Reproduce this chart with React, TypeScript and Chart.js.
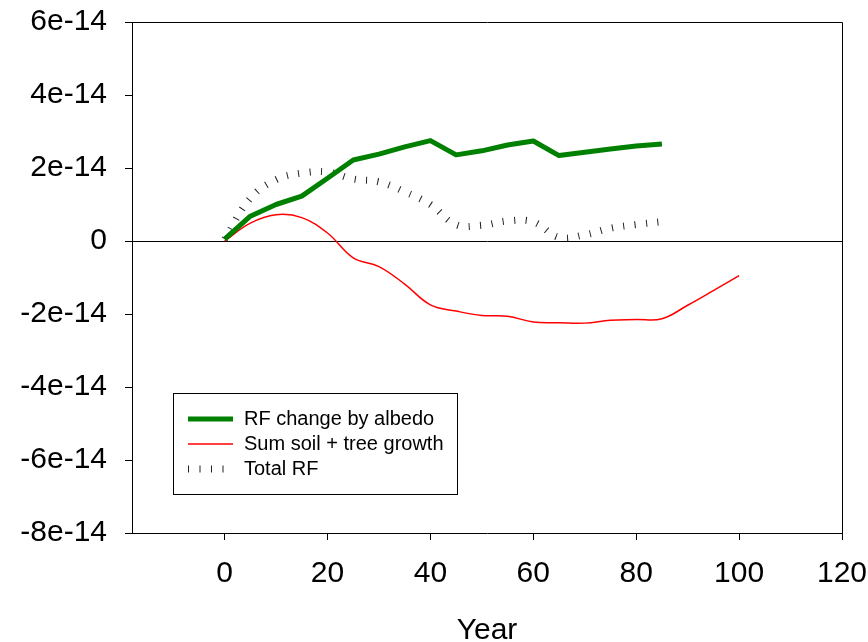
import { useEffect, useRef } from 'react';
import { Chart, registerables } from 'chart.js';

Chart.register(...registerables);

// ---- data ----
const albedoYears = [0, 5, 10, 15, 20, 25, 30, 35, 40, 45, 50, 55, 60, 65, 70, 75, 80, 85];
const albedoRF = [
  0.05e-14, 0.68e-14, 1.0e-14, 1.23e-14, 1.72e-14, 2.22e-14, 2.38e-14, 2.58e-14, 2.75e-14,
  2.36e-14, 2.47e-14, 2.63e-14, 2.74e-14, 2.34e-14, 2.43e-14, 2.52e-14, 2.6e-14, 2.66e-14,
];

const soilYears = [0, 5, 10, 15, 20, 25, 30, 35, 40, 45, 50, 55, 60, 65, 70, 75, 80, 85, 90, 95, 100];
const soilTreeRF = [
  0, 0.49e-14, 0.72e-14, 0.64e-14, 0.22e-14, -0.46e-14, -0.7e-14, -1.18e-14, -1.75e-14,
  -1.92e-14, -2.04e-14, -2.06e-14, -2.22e-14, -2.24e-14, -2.25e-14, -2.17e-14, -2.15e-14,
  -2.13e-14, -1.76e-14, -1.36e-14, -0.95e-14,
];

const totalYears = [0, 5, 10, 15, 20, 25, 30, 35, 40, 45, 50, 55, 60, 65, 70, 75, 80, 85];
const totalRF = [
  0.05e-14, 1.17e-14, 1.68e-14, 1.86e-14, 1.89e-14, 1.7e-14, 1.62e-14, 1.35e-14, 1.0e-14,
  0.45e-14, 0.43e-14, 0.55e-14, 0.52e-14, 0.1e-14, 0.17e-14, 0.35e-14, 0.45e-14, 0.53e-14,
];

const seriesLabels = ['RF change by albedo', 'Sum soil + tree growth', 'Total RF'];
const xTickValues = [0, 20, 40, 60, 80, 100, 120];
const yTickValues = [-8e-14, -6e-14, -4e-14, -2e-14, 0, 2e-14, 4e-14, 6e-14];
const yTickLabels = ['-8e-14', '-6e-14', '-4e-14', '-2e-14', '0', '2e-14', '4e-14', '6e-14'];
const xTitle = 'Year';

const FONT = "'Liberation Sans', Arial, Helvetica, sans-serif";

const toPoints = (xs: number[], ys: number[]) => xs.map((x, i) => ({ x, y: ys[i] }));

const frameAndLegend = {
  id: 'frameAndLegend',
  afterDraw(chart: any) {
    const { ctx, chartArea } = chart;
    ctx.save();
    // top and right frame lines
    ctx.strokeStyle = '#000';
    ctx.lineWidth = 1;
    ctx.beginPath();
    const l = Math.round(chartArea.left) + 0.5;
    const r = Math.round(chartArea.right) + 0.5;
    const t = Math.round(chartArea.top) + 0.5;
    const b = Math.round(chartArea.bottom) + 0.5;
    ctx.moveTo(l, t);
    ctx.lineTo(r, t);
    ctx.lineTo(r, b);
    ctx.stroke();

    // legend box
    const x0 = Math.round(chartArea.left) + 41;
    const y0 = Math.round(chartArea.top) + 371;
    const w = 284;
    const h = 101;
    ctx.strokeRect(x0 + 0.5, y0 + 0.5, w, h);
    chart.data.datasets.forEach((ds: any, i: number) => {
      const y = y0 + 26 + i * 25;
      ctx.beginPath();
      ctx.setLineDash(ds.borderDash || []);
      ctx.lineCap = 'butt';
      ctx.lineWidth = ds.borderWidth;
      ctx.strokeStyle = ds.borderColor;
      ctx.moveTo(x0 + 15, y);
      ctx.lineTo(x0 + 60, y);
      ctx.stroke();
      ctx.setLineDash([]);
      ctx.fillStyle = '#000';
      ctx.font = `20px ${FONT}`;
      ctx.textBaseline = 'middle';
      ctx.textAlign = 'left';
      ctx.fillText(ds.label, x0 + 71, y);
    });
    ctx.restore();
  },
};

export default function App() {
  const canvasRef = useRef<HTMLCanvasElement | null>(null);

  useEffect(() => {
    document.body.style.margin = '0';
    const canvas = canvasRef.current;
    if (!canvas) return;
    const chart = new Chart(canvas, {
      type: 'line',
      data: {
        datasets: [
          {
            label: seriesLabels[0],
            data: toPoints(albedoYears, albedoRF),
            borderColor: '#008000',
            borderWidth: 5,
            pointRadius: 0,
            tension: 0,
            borderJoinStyle: 'round',
          },
          {
            label: seriesLabels[1],
            data: toPoints(soilYears, soilTreeRF),
            borderColor: '#ff0000',
            borderWidth: 1.5,
            pointRadius: 0,
            tension: 0.4,
          },
          {
            label: seriesLabels[2],
            data: toPoints(totalYears, totalRF),
            borderColor: '#222222',
            borderWidth: 7,
            borderDash: [1, 10.5],
            borderCapStyle: 'butt',
            pointRadius: 0,
            tension: 0.4,
          },
        ],
      },
      options: {
        animation: false,
        responsive: true,
        maintainAspectRatio: false,
        layout: { padding: { top: 22, right: 26, left: 0, bottom: 0 } },
        plugins: {
          legend: { display: false },
          tooltip: { enabled: false },
        },
        scales: {
          x: {
            type: 'linear',
            min: -18,
            max: 120,
            afterFit: (scale: any) => {
              scale.height = 109;
              scale.paddingLeft = 0;
              scale.paddingRight = 0;
            },
            afterBuildTicks: (scale: any) => {
              scale.ticks = xTickValues.map((v) => ({ value: v }));
            },
            grid: {
              color: 'rgba(0,0,0,0)',
              tickColor: '#000',
              tickLength: 7,
              drawOnChartArea: false,
            },
            border: { display: true, color: '#000', width: 1 },
            ticks: {
              color: '#000',
              padding: 16,
              maxRotation: 0,
              font: { family: FONT, size: 30 },
              callback: (v: any) => String(v),
            },
            title: {
              display: true,
              text: xTitle,
              color: '#000',
              font: { family: FONT, size: 30 },
              padding: { top: 0, bottom: -7 },
            },
          },
          y: {
            type: 'linear',
            min: -8e-14,
            max: 6e-14,
            afterFit: (scale: any) => {
              scale.width = 132;
              scale.paddingTop = 0;
              scale.paddingBottom = 0;
            },
            afterBuildTicks: (scale: any) => {
              scale.ticks = yTickValues.map((v) => ({ value: v }));
            },
            grid: {
              color: (c: any) => (c.tick && c.tick.value === 0 ? '#000' : 'rgba(0,0,0,0)'),
              tickColor: '#000',
              tickLength: 7,
              lineWidth: 1,
            },
            border: { display: true, color: '#000', width: 1 },
            ticks: {
              color: '#000',
              padding: 18,
              font: { family: FONT, size: 30 },
              callback: (v: any) => {
                const i = yTickValues.findIndex((t) => Math.abs(t - v) < 1e-20);
                return i >= 0 ? yTickLabels[i] : '';
              },
            },
          },
        },
      },
      plugins: [frameAndLegend],
    });
    return () => chart.destroy();
  }, []);

  return (
    <div style={{ position: 'relative', width: 868, height: 642 }}>
      <canvas ref={canvasRef} />
    </div>
  );
}
